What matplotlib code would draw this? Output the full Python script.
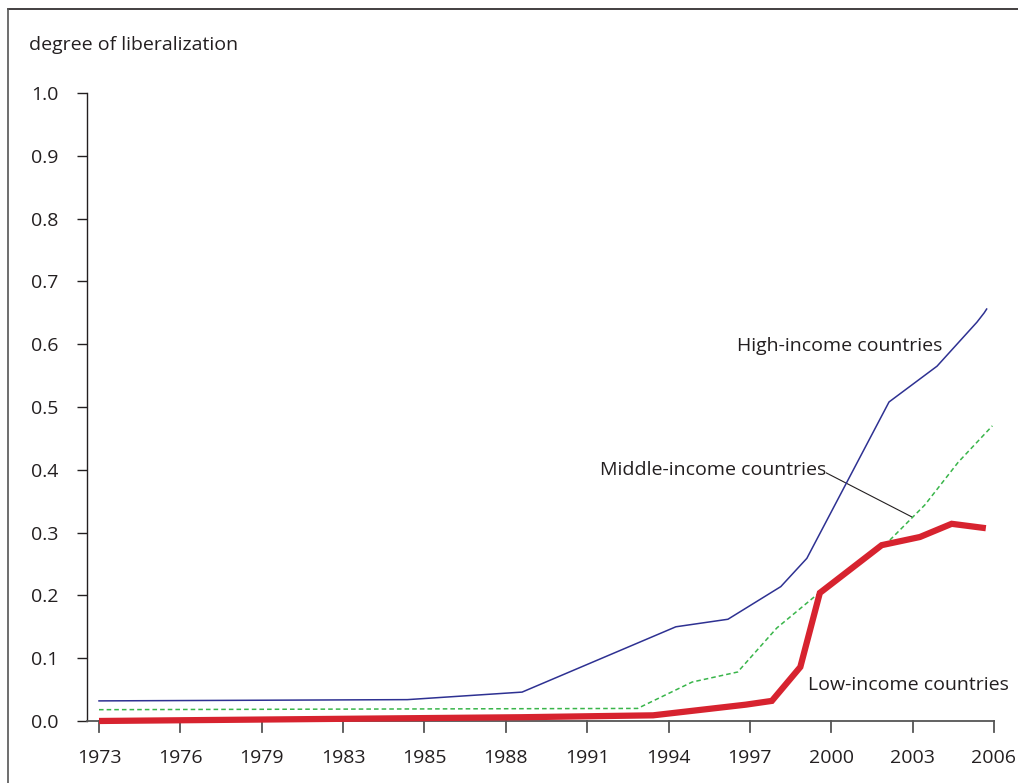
import numpy as np
import matplotlib
matplotlib.use("Agg")
import matplotlib.pyplot as plt

plt.rcParams['font.family'] = ['Open Sans', 'DejaVu Sans']

# tick labels (evenly spaced on the chart, although the years are not)
year_labels = ['1973', '1976', '1979', '1983', '1985', '1988',
               '1991', '1994', '1997', '2000', '2003', '2006']

# series, x given in tick-index units
high_x = [0, 3.79, 5.2, 7.09, 7.73, 8.38, 8.70, 9.71, 10.30, 10.79, 10.88, 10.91]
high_y = [0.032, 0.034, 0.046, 0.150, 0.162, 0.214, 0.259, 0.508, 0.565, 0.635, 0.650, 0.656]

mid_x = [0, 6.62, 7.29, 7.85, 8.33, 8.86, 9.72, 10.15, 10.56, 10.98]
mid_y = [0.018, 0.020, 0.062, 0.078, 0.148, 0.205, 0.288, 0.344, 0.412, 0.470]

low_x = [0, 5.2, 6.81, 7.95, 8.27, 8.62, 8.86, 9.62, 10.09, 10.48, 10.90]
low_y = [0.000, 0.006, 0.009, 0.026, 0.032, 0.086, 0.204, 0.280, 0.293, 0.314, 0.307]

text_col = '#231f20'
axis_col = '#555555'
fs = 14

fig = plt.figure(figsize=(10.18, 7.83), dpi=100)
ax = fig.add_axes([0.0855, 0.0792, 0.9764 - 0.0855, 0.8812 - 0.0792])

ax.plot(high_x, high_y, color='#2e3192', lw=1.1, zorder=3)
ax.plot(mid_x, mid_y, color='#39b54a', lw=1.1, ls=(0, (3, 2)), zorder=3)
ax.plot(low_x, low_y, color='#d7232f', lw=4.5, zorder=4, clip_on=False,
        solid_joinstyle='miter', solid_capstyle='butt')

ax.set_xlim(-0.147, 11)
ax.set_ylim(0, 1)
ax.set_xticks(np.arange(len(year_labels)))
ax.set_xticklabels(year_labels)
ax.set_yticks(np.arange(0, 1.01, 0.1))
ax.set_yticklabels(['%.1f' % v for v in np.arange(0, 1.01, 0.1)])

for s in ['top', 'right']:
    ax.spines[s].set_visible(False)
ax.spines['left'].set_color(text_col)
ax.spines['left'].set_linewidth(1.0)
ax.spines['bottom'].set_color(axis_col)
ax.spines['bottom'].set_linewidth(1.3)
ax.tick_params(axis='y', direction='out', length=7.5, width=1.0, color=text_col,
               labelsize=fs, labelcolor=text_col, pad=13)
ax.tick_params(axis='x', direction='in', length=0, labelsize=fs,
               labelcolor=text_col, pad=20)
# x ticks hang below the axis line
for i in range(len(year_labels)):
    ax.plot([i, i], [0, -0.017], color=axis_col, lw=1.3, clip_on=False)

ax.text(-0.86, 1.077, 'degree of liberalization', fontsize=fs, color=text_col,
        va='center', ha='left')

ax.text(10.36, 0.597, 'High-income countries', fontsize=fs, color=text_col,
        ha='right', va='center')
ax.text(8.94, 0.400, 'Middle-income countries', fontsize=fs, color=text_col,
        ha='right', va='center')
ax.plot([8.94, 9.99], [0.395, 0.325], color=text_col, lw=0.8)
ax.text(8.71, 0.058, 'Low-income countries', fontsize=fs, color=text_col,
        ha='left', va='center')

# outer frame lines (top and left)
fig.add_artist(plt.Line2D([8 / 1018, 1], [1 - 9 / 783, 1 - 9 / 783],
                          color=text_col, lw=1.2, transform=fig.transFigure))
fig.add_artist(plt.Line2D([8 / 1018, 8 / 1018], [0, 1 - 9 / 783],
                          color='#555555', lw=1.2, transform=fig.transFigure))

fig.savefig('out.png', dpi=100)
